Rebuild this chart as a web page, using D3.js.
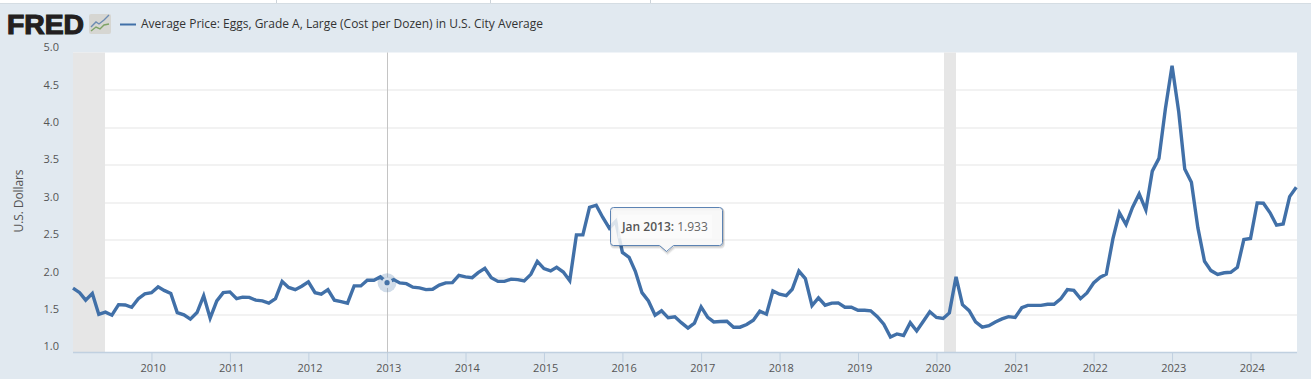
<!DOCTYPE html>
<html><head><meta charset="utf-8">
<script src="https://cdnjs.cloudflare.com/ajax/libs/d3/7.8.5/d3.min.js"></script>
<style>
html,body{margin:0;padding:0;background:#e1e9f0;overflow:hidden}
svg{display:block;font-family:"Open Sans",sans-serif}
</style></head><body><svg id="c" width="1311" height="379"></svg>
<script>
const title = "Average Price: Eggs, Grade A, Large (Cost per Dozen) in U.S. City Average";
const yAxisTitle = "U.S. Dollars";
const startMonth = "2009-01";
const prices2009 = [1.86,1.80,1.70,1.79,1.51,1.54,1.50,1.64,1.636,1.605,1.72,1.785];
const prices2010 = [1.80,1.877,1.83,1.79,1.535,1.505,1.447,1.535,1.76,1.46,1.69,1.80];
const prices2011 = [1.81,1.72,1.74,1.737,1.70,1.69,1.66,1.72,1.95,1.87,1.84,1.886];
const prices2012 = [1.943,1.80,1.78,1.84,1.70,1.68,1.66,1.89,1.89,1.965,1.965,2.01];
const prices2013 = [1.933,1.974,1.93,1.92,1.873,1.864,1.84,1.846,1.90,1.93,1.934,2.03];
const prices2014 = [2.01,2.00,2.066,2.124,2.00,1.95,1.95,1.98,1.973,1.956,2.044,2.217];
const prices2015 = [2.12,2.09,2.137,2.075,1.96,2.57,2.57,2.938,2.965,2.805,2.66,2.75];
const prices2016 = [2.336,2.27,2.084,1.80,1.69,1.50,1.558,1.465,1.478,1.40,1.327,1.394];
const prices2017 = [1.61,1.47,1.41,1.416,1.42,1.34,1.34,1.376,1.434,1.553,1.513,1.823];
const prices2018 = [1.78,1.76,1.845,2.088,1.987,1.628,1.73,1.633,1.66,1.664,1.606,1.606];
const prices2019 = [1.566,1.566,1.558,1.48,1.38,1.21,1.25,1.23,1.40,1.29,1.42,1.545];
const prices2020 = [1.47,1.456,1.53,2.01,1.64,1.56,1.41,1.34,1.36,1.41,1.45,1.48];
const prices2021 = [1.47,1.60,1.63,1.63,1.63,1.646,1.646,1.717,1.84,1.83,1.72,1.796];
const prices2022 = [1.929,2.005,2.046,2.52,2.863,2.707,2.936,3.116,2.902,3.419,3.589,4.25];
const prices2023 = [4.823,4.211,3.446,3.27,2.666,2.219,2.094,2.043,2.065,2.072,2.138,2.507];
const prices2024 = [2.522,2.996,2.992,2.864,2.699,2.715,3.08,3.204];
const prices = [].concat(prices2009,prices2010,prices2011,prices2012,prices2013,prices2014,prices2015,prices2016,prices2017,prices2018,prices2019,prices2020,prices2021,prices2022,prices2023,prices2024);
const recessions = [["2009-01","2009-06"],["2020-02","2020-04"]];
const yTicks = [1,1.5,2,2.5,3,3.5,4,4.5,5];
const tickYears = [2010,2011,2012,2013,2014,2015,2016,2017,2018,2019,2020,2021,2022,2023,2024];
const hoverMonth = "2013-01";
const hoverValue = 1.933;
const hoverLabel = "Jan 2013:";
const topStripTicks = [276,490,650];

const parse = d3.utcParse("%Y-%m");
const start = parse(startMonth);
const dates = prices.map((_,i)=>d3.utcMonth.offset(start,i));
const x = d3.scaleUtc().domain([start,dates[dates.length-1]]).range([73,1296.3]);
const y = d3.scaleLinear().domain([1,5]).range([352.7,52.5]);
const svg = d3.select("#c");

// top strip
svg.append("rect").attr("width",1311).attr("height",3).attr("fill","#fff");
svg.append("line").attr("x1",0).attr("x2",1311).attr("y1",3.5).attr("y2",3.5).attr("stroke","#d5dde3");
svg.selectAll(".st").data(topStripTicks).join("line").attr("x1",d=>d+.5).attr("x2",d=>d+.5).attr("y1",0).attr("y2",3).attr("stroke","#ccd3d9");

// plot background
svg.append("rect").attr("x",73).attr("y",52.5).attr("width",1224).attr("height",300.2).attr("fill","#fff");
svg.selectAll(".rec").data(recessions).join("rect")
  .attr("x",d=>Math.round(x(parse(d[0])))+(d[0]==="2009-01"?0:1)).attr("y",52.5)
  .attr("width",d=>Math.round(x(parse(d[1])))-Math.round(x(parse(d[0])))-(d[0]==="2009-01"?0:1)).attr("height",300.2).attr("fill","#e6e6e6");

// y axis + grid
const gy = svg.append("g").attr("transform","translate(73,0)")
  .call(d3.axisLeft(y).tickValues(yTicks).tickSize(0).tickPadding(14).tickFormat(d3.format(".1f")));
gy.select(".domain").remove();
gy.selectAll("text").attr("font-size",11).attr("font-family","'Open Sans',sans-serif").attr("fill","#555")
  .attr("dy",d=>(-1.9-(5-d)*0.25)+"px");
svg.append("g").selectAll("line").data(yTicks.slice(1,-1)).join("line")
  .attr("x1",73).attr("x2",1297).attr("y1",d=>Math.round(y(d))).attr("y2",d=>Math.round(y(d)))
  .attr("stroke","#e6e6e6").attr("stroke-width",1.2);

// x axis
const gx = svg.append("g").attr("transform","translate(0,352.5)")
  .call(d3.axisBottom(x).tickValues(tickYears.map(t=>new Date(Date.UTC(t,0,1)))).tickSize(10).tickPadding(2).tickFormat(d3.utcFormat("%Y")));
gx.select(".domain").attr("stroke","#c0d0e0").attr("stroke-width",1.4).attr("d","M73,0H1297");
gx.selectAll("line").attr("stroke","#c0d0e0");
gx.selectAll("text").attr("font-size",11).attr("font-family","'Open Sans',sans-serif").attr("fill","#555").attr("dx","1.2px");

// crosshair
const hx = x(parse(hoverMonth)), hy = y(hoverValue);
const cx = Math.floor(hx)+.5;
svg.append("line").attr("x1",cx).attr("x2",cx).attr("y1",52.5).attr("y2",352.5).attr("stroke","#c4c4c4").attr("stroke-width",1);

// series
const lineGen = d3.line().x((d,i)=>x(dates[i])).y(d=>y(d));
svg.append("path").attr("d",lineGen(prices)).attr("fill","none").attr("stroke","#4170a8").attr("stroke-width",3.4).attr("stroke-linejoin","miter");

// hover marker
svg.append("circle").attr("cx",hx).attr("cy",hy).attr("r",9.5).attr("fill","#4572a7").attr("fill-opacity",.25);
svg.append("circle").attr("cx",hx).attr("cy",hy).attr("r",5.2).attr("fill","#d5dfeb");
svg.append("circle").attr("cx",hx).attr("cy",hy).attr("r",2.6).attr("fill","#4572a7");

// y title
svg.append("text").attr("transform","translate(19,201) rotate(-90)").attr("text-anchor","middle").attr("dy",".35em")
  .attr("font-size",12).attr("fill","#555").attr("textLength",63).text(yAxisTitle);

// legend
svg.append("line").attr("x1",120).attr("x2",136).attr("y1",24.5).attr("y2",24.5).attr("stroke","#4170a8").attr("stroke-width",2);
svg.append("text").attr("x",141).attr("y",27.7).attr("font-size",12).attr("fill","#333").attr("textLength",402).attr("lengthAdjust","spacingAndGlyphs").text(title);

// logo
svg.append("text").attr("x",7).attr("y",33.5).attr("font-family","'Liberation Sans',sans-serif").attr("font-weight",700)
  .attr("font-size",27).attr("fill","#231f20").attr("stroke","#231f20").attr("stroke-width",1.2)
  .attr("textLength",77).attr("lengthAdjust","spacingAndGlyphs").text("FRED");
const icon = svg.append("g").attr("transform","translate(89,14)");
icon.append("rect").attr("width",22).attr("height",20).attr("rx",2).attr("fill","#d6d6d2");
icon.append("path").attr("d",d3.line()([[2,13],[7,8],[10,10],[15,6],[20,1]])).attr("fill","none").attr("stroke","#6c8bb2").attr("stroke-width",1.4);
icon.append("path").attr("d",d3.line()([[2,17],[7,13],[11,15],[15,11],[20,10]])).attr("fill","none").attr("stroke","#7ea366").attr("stroke-width",1.4);

// tooltip
const tipPath = "M3,0H109a3,3 0 0 1 3,3V35a3,3 0 0 1 -3,3H63L56,44L49,38H3a3,3 0 0 1 -3,-3V3a3,3 0 0 1 3,-3Z";
const tip = svg.append("g").attr("transform","translate(610.5,207.5)");
[[3,.05],[2,.08],[1,.12]].forEach(([o,a])=>tip.append("path").attr("d",tipPath).attr("transform",`translate(1,${o*.7})`).attr("fill","none").attr("stroke","#000").attr("stroke-opacity",a).attr("stroke-width",o));
tip.append("path").attr("d",tipPath).attr("fill","#f7f7f7").attr("fill-opacity",.85).attr("stroke","#5c83b3").attr("stroke-width",1);
tip.append("rect").attr("x",7.5).attr("y",7).attr("width",94).attr("height",24).attr("fill","#fff").attr("fill-opacity",.45);
const tt = tip.append("text").attr("x",11.5).attr("y",23.5).attr("font-size",12).attr("fill","#555");
tt.append("tspan").attr("font-weight",600).text(hoverLabel);
tt.append("tspan").attr("fill","#666").text(" "+d3.format(".3f")(hoverValue));
</script></body></html>
